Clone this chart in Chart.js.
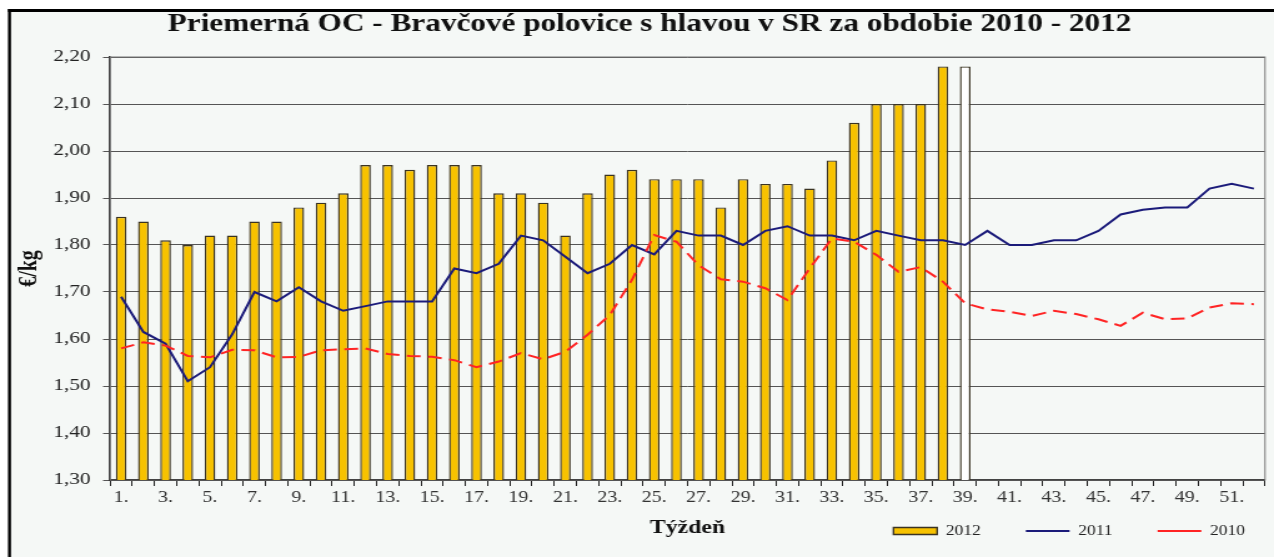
<!DOCTYPE html>
<html>
<head>
<meta charset="utf-8">
<script src="https://cdn.jsdelivr.net/npm/chart.js@4.4.0/dist/chart.umd.min.js"></script>
<style>
  html, body { margin: 0; padding: 0; background: #fff; overflow: hidden; }
  /* the source picture is stretched sideways, so the chart is drawn narrower and widened */
  #wrap { width: 1020px; height: 557px; transform: scaleX(1.2490196); transform-origin: 0 0; }
</style>
</head>
<body>
<div id="wrap"><canvas id="c"></canvas></div>
<script>
const weeks = [];
for (let w = 1; w <= 52; w++) weeks.push(w + ".");

const price2012 = [1.86, 1.85, 1.81, 1.80, 1.82, 1.82, 1.85, 1.85, 1.88, 1.89,
  1.91, 1.97, 1.97, 1.96, 1.97, 1.97, 1.97, 1.91, 1.91, 1.89,
  1.82, 1.91, 1.95, 1.96, 1.94, 1.94, 1.94, 1.88, 1.94, 1.93,
  1.93, 1.92, 1.98, 2.06, 2.10, 2.10, 2.10, 2.18, 2.18];

const price2011 = [1.69, 1.615, 1.59, 1.51, 1.54, 1.61, 1.70, 1.68, 1.71, 1.68,
  1.66, 1.67, 1.68, 1.68, 1.68, 1.75, 1.74, 1.76, 1.82, 1.81,
  1.775, 1.74, 1.76, 1.80, 1.78, 1.83, 1.82, 1.82, 1.80, 1.83,
  1.84, 1.82, 1.82, 1.81, 1.83, 1.82, 1.81, 1.81, 1.80, 1.83,
  1.80, 1.80, 1.81, 1.81, 1.83, 1.865, 1.875, 1.88, 1.88, 1.92,
  1.93, 1.92];

const price2010 = [1.58, 1.593, 1.586, 1.564, 1.561, 1.577, 1.576, 1.561, 1.562, 1.576,
  1.578, 1.58, 1.568, 1.564, 1.562, 1.555, 1.54, 1.552, 1.57, 1.557,
  1.573, 1.609, 1.651, 1.726, 1.821, 1.807, 1.757, 1.727, 1.722, 1.708,
  1.683, 1.75, 1.814, 1.807, 1.779, 1.743, 1.753, 1.722, 1.676, 1.663,
  1.658, 1.649, 1.66, 1.653, 1.642, 1.628, 1.656, 1.642, 1.644, 1.667,
  1.676, 1.674];

// last 2012 week is an open (white) bar
const barColors = price2012.map((v, i) => i === price2012.length - 1 ? "#ffffff" : "#F7C200");

Chart.defaults.font.family = "'Liberation Serif', 'Times New Roman', serif";
Chart.defaults.color = "#222";

const frame = {
  id: "frame",
  beforeDraw(chart) {
    const ctx = chart.ctx;
    ctx.save();
    ctx.fillStyle = "#F5F8F6";
    ctx.fillRect(7.2, 10, chart.width, chart.height);
    ctx.fillStyle = "#000";
    ctx.fillRect(6.4, 9, chart.width, 3);
    ctx.fillRect(6.4, 9, 2.4, chart.height);
    ctx.restore();
  },
  beforeDatasetsDraw(chart) {
    const a = chart.chartArea, ctx = chart.ctx;
    ctx.save();
    ctx.strokeStyle = "#777";
    ctx.lineWidth = 1;
    ctx.strokeRect(a.left, a.top, a.right - a.left, a.bottom - a.top);
    ctx.restore();
  },
  afterLayout(chart) {
    // put the legend on the same row as the x title, toward the right
    const lg = chart.legend;
    lg.top = 488; lg.bottom = 557; lg.height = 69;
    lg.left += 20; lg.right += 20;
  }
};

new Chart(document.getElementById("c"), {
  type: "bar",
  data: {
    labels: weeks,
    datasets: [
      {
        label: "2012",
        data: price2012,
        backgroundColor: barColors,
        borderColor: "#3a3322",
        borderWidth: 1.4,
        barPercentage: 0.48,
        categoryPercentage: 1,
        order: 2
      },
      {
        type: "line",
        label: "2011",
        data: price2011,
        borderColor: "#1b1b7a",
        backgroundColor: "#1b1b7a",
        borderWidth: 2,
        pointRadius: 0,
        tension: 0,
        order: 1
      },
      {
        type: "line",
        label: "2010",
        data: price2010,
        borderColor: "#FF2424",
        backgroundColor: "#FF2424",
        borderWidth: 2,
        borderDash: [11, 6],
        pointRadius: 0,
        tension: 0,
        order: 0
      }
    ]
  },
  options: {
    responsive: true,
    maintainAspectRatio: false,
    animation: false,
    layout: { padding: { left: 27.2, right: 7.2, top: 10, bottom: 0 } },
    scales: {
      x: {
        grid: { offset: true, drawOnChartArea: false, color: "#222", tickLength: 6 },
        border: { color: "#111", width: 1.5 },
        ticks: {
          autoSkip: false,
          maxRotation: 0,
          padding: 2,
          color: "#333",
          font: { size: 16 },
          callback: function (v, i) { return i % 2 === 0 ? this.getLabelForValue(v) : ""; }
        },
        title: {
          display: true,
          text: "Týždeň",
          color: "#111",
          font: { size: 19, weight: "bold" },
          padding: { top: 0, bottom: -2.4 }
        },
        afterFit(scale) { scale.height = 57; }
      },
      y: {
        min: 1.3,
        max: 2.2,
        beginAtZero: false,
        grid: { color: "#555", lineWidth: 1, tickLength: 5.6 },
        border: { color: "#222", width: 1.5 },
        ticks: {
          stepSize: 0.1,
          padding: 10,
          color: "#222",
          font: { size: 17 },
          callback: v => v.toFixed(2).replace(".", ",")
        },
        title: {
          display: true,
          text: "€/kg",
          color: "#111",
          font: { size: 20, weight: "bold" },
          padding: { top: -15.2, bottom: 0 }
        },
        afterFit(scale) { scale.width = 60.9; }
      }
    },
    plugins: {
      title: {
        display: true,
        text: "Priemerná OC - Bravčové polovice s hlavou v SR za obdobie 2010 - 2012",
        color: "#111",
        font: { size: 25, weight: "bold" },
        padding: { top: 0, bottom: 17 }
      },
      legend: {
        position: "bottom",
        align: "end",
        maxHeight: 20,
        labels: {
          usePointStyle: true,
          pointStyleWidth: 35,
          boxHeight: 7,
          padding: 36,
          color: "#222",
          font: { size: 14 },
          sort: (a, b) => a.datasetIndex - b.datasetIndex,
          generateLabels(chart) {
            const items = Chart.defaults.plugins.legend.labels.generateLabels(chart);
            items.forEach(it => { it.pointStyle = it.datasetIndex === 0 ? "rect" : "line"; });
            return items;
          }
        }
      },
      tooltip: { enabled: false }
    }
  },
  plugins: [frame]
});
</script>
</body>
</html>
